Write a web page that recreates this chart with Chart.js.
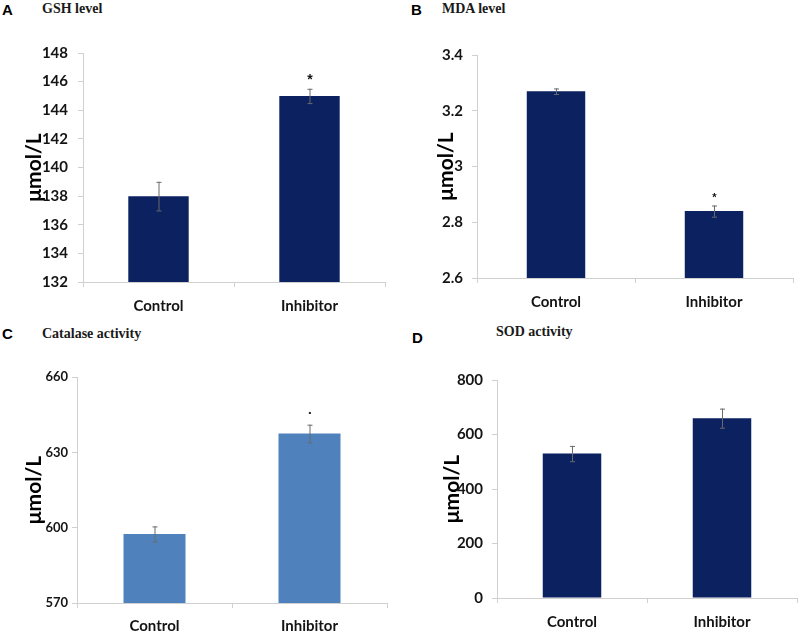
<!DOCTYPE html>
<html>
<head>
<meta charset="utf-8">
<script src="https://cdn.jsdelivr.net/npm/chart.js@4"></script>
<style>
  body { margin: 0; background: #fff; }
  #wrap { position: relative; width: 800px; height: 634px; overflow: hidden; }
  .box { position: absolute; }
  .letter { position: absolute; font: bold 15px "Liberation Sans", Arial, sans-serif; color: #000; }
  .ptitle { position: absolute; font: bold 14px "Liberation Serif", "Times New Roman", serif; color: #1a1a1a; }
</style>
</head>
<body>
<div id="wrap">
  <div class="letter" style="left:2px;top:1px">A</div>
  <div class="ptitle" style="left:42px;top:1px">GSH level</div>
  <div class="letter" style="left:411px;top:1px">B</div>
  <div class="ptitle" style="left:442px;top:1px">MDA level</div>
  <div class="letter" style="left:2px;top:325px">C</div>
  <div class="ptitle" style="left:42px;top:326px">Catalase activity</div>
  <div class="letter" style="left:412px;top:329px">D</div>
  <div class="ptitle" style="left:496px;top:324px">SOD activity</div>

  <div class="box" style="left:0;top:30px;width:400px;height:290px"><canvas id="chartA"></canvas></div>
  <div class="box" style="left:400px;top:30px;width:400px;height:290px"><canvas id="chartB"></canvas></div>
  <div class="box" style="left:0;top:350px;width:400px;height:284px"><canvas id="chartC"></canvas></div>
  <div class="box" style="left:400px;top:350px;width:400px;height:284px"><canvas id="chartD"></canvas></div>
</div>

<script>
// groups on the x axis
var categories = ['Control', 'Inhibitor'];

// A: GSH level
var gshValues = [138, 145];
var gshErrors = [1, 0.5];
var gshMarks = ['', '*'];

// B: MDA level
var mdaValues = [3.27, 2.84];
var mdaErrors = [0.01, 0.02];
var mdaMarks = ['', '*'];

// C: Catalase activity
var catValues = [597.5, 637.5];
var catErrors = [3, 3.5];
var catMarks = ['', '•'];

// D: SOD activity
var sodValues = [530, 660];
var sodErrors = [28, 35];
var sodMarks = ['', ''];

var navy = '#0b2160';
var lightBlue = '#4f81bd';
var axisGray = '#d0d0d0';
var textColor = '#141414';

// draws the error bars and significance marks from the dataset's extra arrays
var errorBarPlugin = {
    id: 'errorBars',
    afterDatasetsDraw: function(chart) {
        var ds = chart.data.datasets[0];
        var meta = chart.getDatasetMeta(0);
        var y = chart.scales.y;
        var c = chart.ctx;
        c.save();
        meta.data.forEach(function(bar, i) {
            var v = ds.data[i], e = ds.errors[i];
            var top = y.getPixelForValue(v + e);
            var bot = y.getPixelForValue(v - e);
            c.strokeStyle = '#6b6b6b';
            c.lineWidth = 1;
            c.beginPath();
            c.moveTo(bar.x + 0.5, top);
            c.lineTo(bar.x + 0.5, bot);
            c.moveTo(bar.x - 2, top + 0.5);
            c.lineTo(bar.x + 3, top + 0.5);
            c.moveTo(bar.x - 2, bot + 0.5);
            c.lineTo(bar.x + 3, bot + 0.5);
            c.stroke();
            if (ds.marks[i]) {
                c.fillStyle = '#111';
                c.font = 'bold ' + ds.markSize + 'px "Liberation Sans", Arial, sans-serif';
                c.textAlign = 'center';
                c.textBaseline = 'middle';
                c.fillText(ds.marks[i], bar.x + 0.5, top - ds.markGap);
            }
        });
        c.restore();
    }
};

function makeChart(id, opts) {
    var ctx = document.getElementById(id);
    return new Chart(ctx, {
        type: 'bar',
        data: {
            labels: categories,
            datasets: [{
                data: opts.values,
                errors: opts.errors,
                marks: opts.marks,
                markSize: opts.markSize,
                markGap: opts.markGap,
                backgroundColor: opts.color,
                borderColor: opts.color,
                borderWidth: 0,
                barPercentage: opts.barPct,
                categoryPercentage: 1
            }]
        },
        options: {
            responsive: true,
            maintainAspectRatio: false,
            animation: false,
            layout: { padding: { top: opts.padTop, right: opts.padRight, left: 0, bottom: 0 } },
            plugins: {
                legend: { display: false },
                tooltip: { enabled: false }
            },
            scales: {
                x: {
                    offset: true,
                    grid: {
                        offset: true,
                        drawOnChartArea: false,
                        drawTicks: true,
                        tickLength: 5,
                        color: axisGray
                    },
                    border: { display: true, color: axisGray, width: 1 },
                    ticks: {
                        color: textColor,
                        padding: opts.xPad,
                        maxRotation: 0,
                        font: { family: 'Lato', weight: 'bold', size: 15 }
                    },
                    afterFit: function(scale) { scale.height = opts.xHeight; }
                },
                y: {
                    min: opts.min,
                    max: opts.max,
                    grid: {
                        drawOnChartArea: false,
                        drawTicks: true,
                        tickLength: 5,
                        color: axisGray
                    },
                    border: { display: true, color: axisGray, width: 1 },
                    ticks: {
                        stepSize: opts.step,
                        color: textColor,
                        padding: opts.yPad,
                        font: { family: 'Lato', weight: 'bold', size: opts.tickSize },
                        callback: function(v) { return String(Number(v.toFixed(2))); }
                    },
                    title: {
                        display: true,
                        text: 'μmol/L',
                        color: '#000',
                        font: { family: 'Lato', weight: 'bold', size: 21 },
                        padding: { top: opts.titlePad, bottom: 0 }
                    },
                    afterFit: function(scale) { scale.width = opts.yWidth; }
                }
            }
        },
        plugins: [errorBarPlugin]
    });
}

makeChart('chartA', {
    values: gshValues, errors: gshErrors, marks: gshMarks, markSize: 14, markGap: 9,
    color: navy, barPct: 0.4, min: 132, max: 148, step: 2, tickSize: 15,
    padTop: 23, padRight: 15, yWidth: 83, xHeight: 38, yPad: 10, xPad: 10, titlePad: 22
});

makeChart('chartB', {
    values: mdaValues, errors: mdaErrors, marks: mdaMarks, markSize: 11, markGap: 8,
    color: navy, barPct: 0.37, min: 2.6, max: 3.4, step: 0.2, tickSize: 15,
    padTop: 25, padRight: 7, yWidth: 77, xHeight: 42, yPad: 9, xPad: 10, titlePad: 34
});

makeChart('chartC', {
    values: catValues, errors: catErrors, marks: catMarks, markSize: 8, markGap: 12,
    color: lightBlue, barPct: 0.4, min: 570, max: 660, step: 30, tickSize: 13,
    padTop: 27, padRight: 13, yWidth: 77, xHeight: 31, yPad: 4, xPad: 9, titlePad: 22
});

makeChart('chartD', {
    values: sodValues, errors: sodErrors, marks: sodMarks, markSize: 11, markGap: 8,
    color: navy, barPct: 0.39, min: 0, max: 800, step: 200, tickSize: 15,
    padTop: 30, padRight: 3, yWidth: 97, xHeight: 36, yPad: 9, xPad: 10, titlePad: 40
});
</script>
</body>
</html>
